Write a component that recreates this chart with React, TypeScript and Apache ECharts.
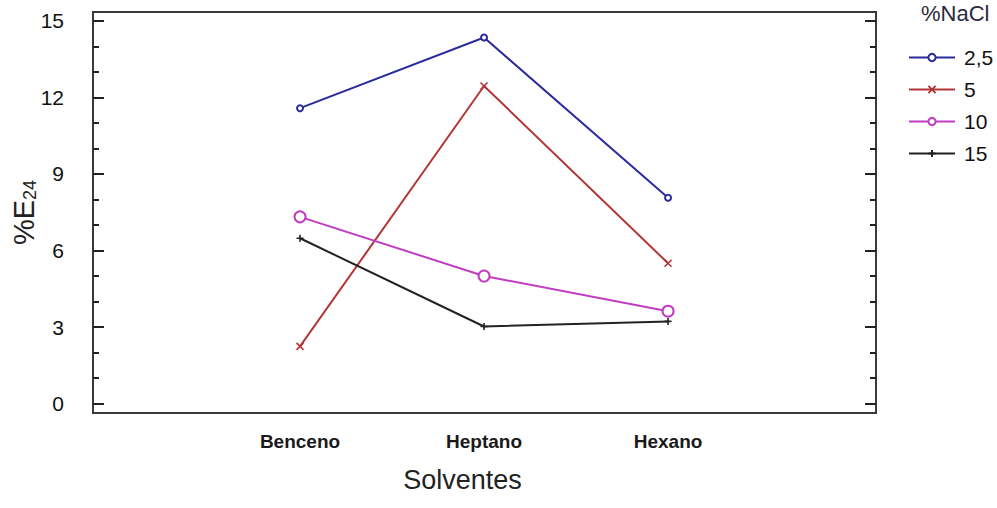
import React, { useEffect, useRef } from "react";
import * as echarts from "echarts";

const categories = ["Benceno", "Heptano", "Hexano"];
const seriesNames = ["2,5", "5", "10", "15"];
const nacl25 = [11.58, 14.35, 8.07];
const nacl5 = [2.24, 12.45, 5.5];
const nacl10 = [7.32, 5.0, 3.62];
const nacl15 = [6.48, 3.02, 3.22];
const yMajorTicks = [0, 3, 6, 9, 12, 15];
const yMinorTicks = [1, 2, 4, 5, 7, 8, 10, 11, 13, 14];
const xPositions = [1, 2, 3];

const FONT = "'Liberation Sans', Arial, sans-serif";
const Y_MIN = -0.37;
const Y_MAX = 15.35;

export default function App() {
  const ref = useRef<HTMLDivElement>(null);
  useEffect(() => {
    document.body.style.margin = "0";
    const chart = echarts.init(ref.current!, undefined, { renderer: "svg" });
    const toPts = (vals: number[]) => vals.map((v, i) => [xPositions[i], v]);
    const colors = ["#2b2b9c", "#b23636", "#c23cc2", "#222222"];
    const symbols = [
      "emptyCircle",
      "path://M0,0L10,10M10,0L0,10",
      "emptyCircle",
      "path://M5,0L5,10M0,5L10,5",
    ];
    const sizes = [6, 7, 11, 7];
    const allData = [nacl25, nacl5, nacl10, nacl15];

    const tickAxis = (position: "left" | "right", ticks: number[] | null, len: number, labels: boolean) => ({
      type: "value",
      position,
      offset: 0,
      min: Y_MIN,
      max: Y_MAX,
      axisLine: { show: false },
      splitLine: { show: false },
      axisTick: ticks
        ? {
            show: true,
            inside: true,
            length: len,
            customValues: ticks,
            lineStyle: { color: "#222", width: 2 },
          }
        : { show: false },
      axisLabel: labels
        ? {
            show: true,
            customValues: yMajorTicks,
            fontSize: 21,
            fontFamily: FONT,
            color: "#111",
            margin: 29,
          }
        : { show: false },
    });

    chart.setOption({
      animation: false,
      backgroundColor: "#ffffff",
      grid: {
        left: 93,
        right: 121,
        top: 12,
        bottom: 95,
        outerBoundsMode: "none",
        containLabel: false,
        show: true,
        borderColor: "#3a3a3a",
        borderWidth: 2,
        backgroundColor: "transparent",
      },
      title: {
        text: "%NaCl",
        left: 921,
        top: 2,
        padding: 0,
        textStyle: { fontSize: 22, fontWeight: "normal", fontFamily: FONT, color: "#2a2a40" },
      },
      legend: {
        orient: "vertical",
        left: 903,
        top: 42,
        itemWidth: 46,
        itemHeight: 9,
        itemGap: 11,
        textStyle: { fontSize: 21, fontFamily: FONT, color: "#111", padding: [0, 0, 0, 4] },
        data: seriesNames,
      },
      xAxis: {
        type: "value",
        min: -0.125,
        max: 4.13,
        axisLine: { show: false },
        axisTick: { show: false },
        splitLine: { show: false },
        axisLabel: {
          customValues: xPositions,
          formatter: (v: number) => categories[xPositions.indexOf(v)] ?? "",
          fontSize: 19,
          fontWeight: "bold",
          fontFamily: FONT,
          color: "#1a1a1a",
          margin: 19,
        },
        name: "Solventes",
        nameLocation: "middle",
        nameGap: 53,
        nameMoveOverlap: false,
        nameTextStyle: { fontSize: 27, fontFamily: FONT, color: "#222", padding: [0, 44, 0, 0] },
      },
      yAxis: [
        {
          ...tickAxis("left", null, 0, true),
          name: "{a|%E}{b|24}",
          nameLocation: "middle",
          nameRotate: 90,
          nameGap: 54,
          nameMoveOverlap: false,
          nameTextStyle: {
            rich: {
              a: { fontSize: 29, fontFamily: FONT, color: "#222", lineHeight: 30 },
              b: { fontSize: 18, fontFamily: FONT, color: "#222", verticalAlign: "bottom", lineHeight: 17 },
            },
          },
        },
        tickAxis("left", yMinorTicks, 6, false),
        tickAxis("left", yMajorTicks, 11, false),
        tickAxis("right", yMinorTicks, 6, false),
        tickAxis("right", yMajorTicks, 11, false),
      ],
      series: allData.map((d, i) => ({
        name: seriesNames[i],
        type: "line",
        yAxisIndex: 0,
        data: toPts(d),
        symbol: symbols[i],
        symbolSize: sizes[i],
        showSymbol: true,
        lineStyle: { color: colors[i], width: 2 },
        itemStyle: {
          color: colors[i],
          borderColor: colors[i],
          borderWidth: 1.6,
        },
      })),
    });
    return () => chart.dispose();
  }, []);
  return (
    <div
      ref={ref}
      style={{ position: "fixed", left: 0, top: 0, width: 997, height: 508, background: "#fff" }}
    />
  );
}
